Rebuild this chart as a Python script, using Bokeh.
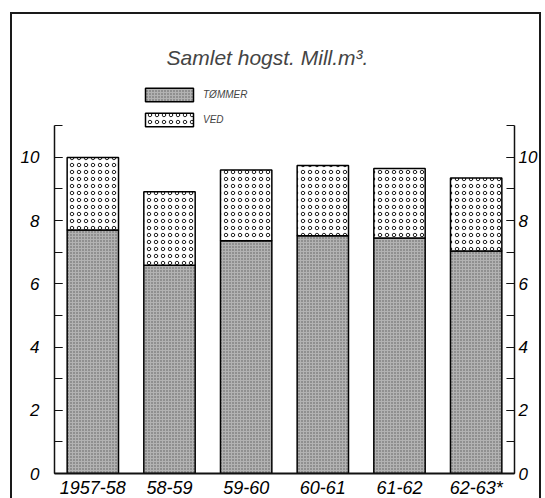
from bokeh.plotting import figure
from bokeh.models import (FactorRange, Range1d, LinearAxis, SingleIntervalTicker, Label)
from bokeh.embed import file_html
from bokeh.resources import INLINE

# ---- data (Mill. m3) ----
periods = ["1957-58", "58-59", "59-60", "60-61", "61-62", "62-63*"]
tommer = [7.70, 6.59, 7.36, 7.52, 7.45, 7.04]
ved = [2.30, 2.32, 2.24, 2.22, 2.20, 2.31]
series = ["TØMMER", "VED"]
y_ticks_interval = 2
title_text = "Samlet hogst.  Mill.m³."

FONT = "Liberation Sans"

p = figure(x_range=FactorRange(*periods, range_padding=0),
           y_range=Range1d(0, 14.52),
           width=531, height=486,
           min_border_left=42, min_border_right=29,
           min_border_top=0, min_border_bottom=26,
           output_backend="svg", toolbar_location=None, title=None)

p.styles = {"margin-left": "10px", "margin-top": "12px",
            "margin-bottom": "-16px", "margin-right": "-16px",
            "border-left": "2px solid #1a1a1a", "border-top": "2px solid #1a1a1a",
            "border-right": "2px solid #1a1a1a"}

p.outline_line_color = None
p.xgrid.grid_line_color = None
p.ygrid.grid_line_color = None
p.background_fill_color = "white"
p.border_fill_color = "white"

src = dict(period=periods, TOMMER=tommer, VED=ved)
p.vbar_stack(["TOMMER", "VED"], x="period", width=0.67, source=src,
             fill_color=["#b2b2b2", "white"],
             hatch_pattern=["dot", "ring"],
             hatch_scale=[3, 7],
             hatch_color=["#5a5a5a", "#222222"],
             hatch_weight=[1, 1],
             line_color="black", line_width=1.5,
             legend_label=series)

# y axes
def style_y(ax, standoff):
    ax.ticker = SingleIntervalTicker(interval=y_ticks_interval, num_minor_ticks=2)
    ax.bounds = (0, 11)
    ax.major_tick_in = 8
    ax.major_tick_out = 0
    ax.minor_tick_in = 8
    ax.minor_tick_out = 0
    ax.axis_line_width = 1.5
    ax.axis_line_color = "#111111"
    ax.major_tick_line_color = "#111111"
    ax.minor_tick_line_color = "#111111"
    ax.major_label_standoff = standoff
    ax.major_label_text_font = FONT
    ax.major_label_text_font_style = "italic"
    ax.major_label_text_font_size = "17px"
    ax.major_label_text_color = "black"

style_y(p.yaxis[0], 15)
right = LinearAxis()
style_y(right, 4)
p.add_layout(right, "right")

xa = p.xaxis[0]
xa.major_tick_in = 0
xa.major_tick_out = 0
xa.minor_tick_in = 0
xa.minor_tick_out = 0
xa.axis_line_width = 2
xa.axis_line_color = "#111111"
xa.major_label_standoff = 4
xa.major_label_text_font = FONT
xa.major_label_text_font_style = "italic"
xa.major_label_text_font_size = "18px"
xa.major_label_text_color = "black"

# title inside the (extended) frame
p.add_layout(Label(x=2.816, y=13.15, x_units="data", y_units="data", text=title_text,
                   text_font=FONT, text_font_style="italic", text_font_size="21px",
                   text_align="center", text_baseline="middle"))

lg = p.legend[0]
lg.location = (85, 345)
lg.padding = 0
lg.margin = 0
lg.spacing = 8
lg.border_line_color = None
lg.background_fill_alpha = 0
lg.glyph_width = 60
lg.glyph_height = 17
lg.label_height = 17
lg.label_standoff = 4
lg.label_text_font = FONT
lg.label_text_font_style = "italic"
lg.label_text_font_size = "10px"

open("out.html", "w").write(file_html(p, INLINE))
